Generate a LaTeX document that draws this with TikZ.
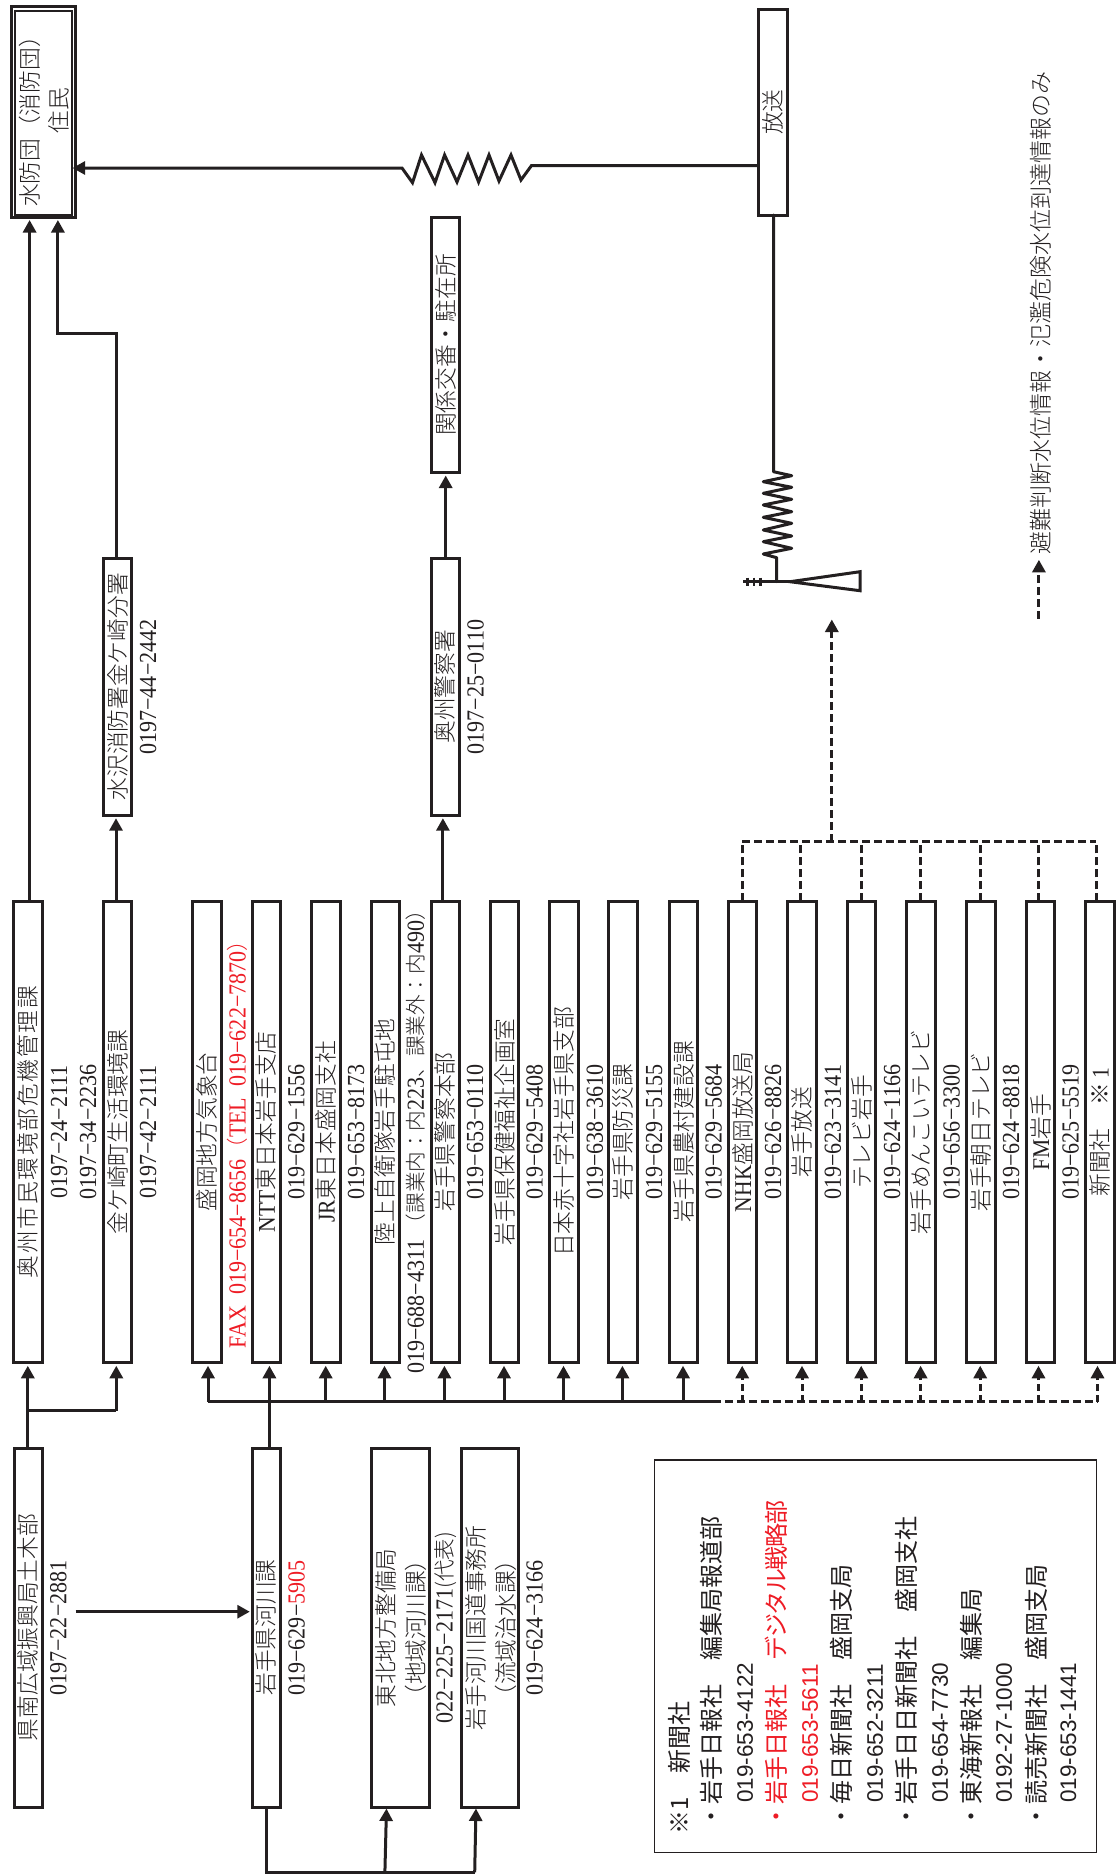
\documentclass[tikz,border=0pt]{standalone}
\usepackage{fontspec}
\usepackage{graphicx}
\usetikzlibrary{arrows.meta}
\setmainfont{Liberation Serif}[FakeStretch=0.9]
\newfontfamily\jpl{Noto Sans CJK JP Light}
\newfontfamily\gth{Noto Sans CJK JP}
\newfontfamily\gnum{Liberation Sans}
\definecolor{ink}{HTML}{231F20}
\definecolor{hred}{HTML}{EE1C25}
\newcommand{\jf}{\jpl\fontsize{22.7}{27}\selectfont}
\newcommand{\pf}{\normalfont\fontsize{24.5}{28}\selectfont}
\newcommand{\lat}[1]{{\normalfont\fontsize{24}{28}\selectfont #1}}
\newcommand{\kan}[1]{{\jpl\fontsize{21.5}{27}\selectfont #1}}
\newcommand{\kans}[1]{{\jpl\fontsize{20.6}{27}\selectfont #1}}
\newcommand{\tl}[1]{\rotatebox{90}{#1}}
\tikzset{
  x=1pt,y=-1pt,
  linep/.style={draw=ink,line width=3pt,line join=miter},
  arr/.style={linep,-{Triangle[length=12.5pt,width=13pt]},shorten >=3pt},
  dsh/.style={draw=ink,line width=3pt,dash pattern=on 8pt off 4pt},
  darr/.style={dsh,-{Triangle[length=12.5pt,width=13pt]},shorten >=3pt},
  busarr/.style={darr,dash pattern=on 6.8pt off 4pt},
  boxn/.style={draw=ink,line width=3pt,fill=white,outer sep=0pt,inner sep=0pt,font=\jf,text=ink},
  col/.style={boxn,minimum width=28.7pt,minimum height=461.5pt},
  mid/.style={boxn,minimum width=28.7pt,minimum height=257pt},
  low/.style={boxn,minimum height=359pt},
  lab/.style={rotate=90,inner sep=0pt,font=\jf,text=ink},
  ph/.style={rotate=90,inner sep=0pt,font=\pf,text=ink},
  gl/.style={rotate=90,anchor=west,inner sep=0pt,font=\gth\fontsize{24}{28}\selectfont,text=ink},
  gp/.style={rotate=90,anchor=west,inner sep=0pt,font=\gnum\fontsize{22.5}{28}\selectfont,text=ink},
}
\begin{document}
\begin{tikzpicture}
\useasboundingbox (0,0) rectangle (1117,1874);
% top boxes
\node[boxn,minimum width=64.2pt,minimum height=211.2pt,line width=2.8pt] (sui) at (43.5,112) {};
\node[draw=ink,line width=2pt,minimum width=56.9pt,minimum height=204.5pt,inner sep=0pt] (suiin) at (43.05,112.75) {};
\node[lab] (suia) at (30,116) {水防団（消防団）};
\node[lab] (suib) at (59,110.5) {住民};
\node[boxn,minimum width=29pt,minimum height=206pt] (hoso) at (772.5,112) {\tl{放送}};
\node[boxn,minimum width=28.7pt,minimum height=255pt] (kankei) at (445.5,345) {\tl{関係交番・駐在所}};
% middle boxes
\node[mid] (suisawa) at (117.5,686.7) {\tl{水沢消防署金ケ崎分署}};
\node[ph] (suisawap) at (148,687) {0197−44−2442};
\node[mid] (oshupol) at (445.35,686.7) {\tl{奥州警察署}};
\node[ph] (oshupolp) at (475.7,687) {0197−25−0110};
% main column
\node[col] (c1) at (28.25,1132) {\tl{\addfontfeature{LetterSpace=8}奥州市民環境部危機管理課}};
\node[ph] (p1a) at (59,1132) {0197−24−2111};
\node[ph] (p1b) at (88.2,1132) {0197−34−2236};
\node[col] (c2) at (117.5,1132) {\tl{金ケ崎町生活環境課}};
\node[ph] (p2) at (148,1132) {0197−42−2111};
\node[col] (c3) at (207.3,1132) {\tl{盛岡地方気象台}};
\node[ph,text=hred] (p3) at (237.5,1139) {FAX\ \ 019−654−8656{\kan{（}}TEL\ \ 019−622−7870{\kan{）}}};
\node[col] (c4) at (266.35,1132) {\tl{\lat{NTT}東日本岩手支店}};
\node[ph] (p4) at (296.4,1132) {019−629−1556};
\node[col] (c5) at (326,1132) {\tl{\lat{JR}東日本盛岡支社}};
\node[ph] (p5) at (356,1132) {019−653−8173};
\node[col] (c6) at (385.35,1132) {\tl{陸上自衛隊岩手駐屯地}};
\node[ph] (p6) at (416,1137) {019−688−4311 {\kans{（課業内：内}}223{\kans{、課業外：内}}490{\kans{）}}};
\node[col] (c7) at (445.35,1132) {\tl{岩手県警察本部}};
\node[ph] (p7) at (475,1132) {019−653−0110};
\node[col] (c8) at (504.5,1132) {\tl{岩手県保健福祉企画室}};
\node[ph] (p8) at (534.6,1132) {019−629−5408};
\node[col] (c9) at (564.1,1132) {\tl{日本赤十字社岩手県支部}};
\node[ph] (p9) at (594.8,1132) {019−638−3610};
\node[col] (c10) at (623.25,1132) {\tl{岩手県防災課}};
\node[ph] (p10) at (654,1132) {019−629−5155};
\node[col] (c11) at (683.45,1132) {\tl{岩手県農村建設課}};
\node[ph] (p11) at (713.5,1132) {019−629−5684};
\node[col] (c12) at (742.6,1132) {\tl{\lat{NHK}盛岡放送局}};
\node[ph] (p12) at (773,1132) {019−626−8826};
\node[col] (c13) at (802.25,1132) {\tl{岩手放送}};
\node[ph] (p13) at (832.8,1132) {019−623−3141};
\node[col] (c14) at (861.6,1132) {\tl{テレビ岩手}};
\node[ph] (p14) at (892,1132) {019−624−1166};
\node[col] (c15) at (921.3,1132) {\tl{岩手めんこいテレビ}};
\node[ph] (p15) at (951.5,1132) {019−656−3300};
\node[col] (c16) at (981,1132) {\tl{岩手朝日テレビ}};
\node[ph] (p16) at (1011,1132) {019−624−8818};
\node[col] (c17) at (1040.45,1132) {\tl{\lat{FM}岩手}};
\node[ph] (p17) at (1070.5,1132) {019−625−5519};
\node[col] (c18) at (1100,1132) {\tl{新聞社　※ \lat{1}}};
% low boxes
\node[low,minimum width=28pt] (kennan) at (28.35,1627.5) {\tl{県南広域振興局土木部}};
\node[ph] (kennanp) at (58.4,1628) {0197−22−2881};
\node[low,minimum width=27.8pt] (kasen) at (266.3,1627.5) {\tl{岩手県河川課}};
\node[ph] (kasenp) at (296.7,1628) {019−629−\textcolor{hred}{5905}};
\node[low,minimum width=57.6pt] (tohoku) at (400.4,1627.5) {};
\node[lab] (tohokua) at (385.7,1628) {東北地方整備局};
\node[lab] (tohokub) at (416,1628) {（地域河川課）};
\node[ph] (tohokup) at (445.7,1628) {022−225−2171{\kan{(代表)}}};
\node[low,minimum width=57pt] (iwate) at (489.8,1627.5) {};
\node[lab] (iwatea) at (475.5,1628) {岩手河川国道事務所};
\node[lab] (iwateb) at (506,1628) {（流域治水課）};
\node[ph] (iwatep) at (534.7,1628) {019−624−3166};
% legend
\node[draw=ink,line width=1.5pt,minimum width=442.4pt,minimum height=392.7pt,inner sep=0pt] (legend) at (875.5,1656.35) {};
\node[gl] (l0) at (679.3,1835) {※1　新聞社};
\node[gl] (l1) at (711.7,1829) {・岩手日報社　編集局報道部};
\node[gp] (l1p) at (745,1803) {019-653-4122};
\node[gl,text=hred] (l2) at (776.7,1829) {・岩手日報社　{\addfontfeature{LetterSpace=-5}デジタル戦略部}};
\node[gp,text=hred] (l2p) at (810,1803) {019-653-5611};
\node[gl] (l3) at (841.7,1829) {・毎日新聞社　盛岡支局};
\node[gp] (l3p) at (875,1803) {019-652-3211};
\node[gl] (l4) at (906.7,1829) {・岩手日日新聞社　盛岡支社};
\node[gp] (l4p) at (940,1803) {019-654-7730};
\node[gl] (l5) at (971.7,1829) {・東海新報社　編集局};
\node[gp] (l5p) at (1004,1803) {0192-27-1000};
\node[gl] (l6) at (1036.7,1829) {・読売新聞社　盛岡支局};
\node[gp] (l6p) at (1068.3,1803) {019-653-1441};
% note
\node[lab,font=\jpl\fontsize{23}{27}\selectfont] (note) at (1041.3,312.5) {避難判断水位情報・氾濫危険水位到達情報のみ};
\coordinate (notea) at (1038.9,618.7);
\coordinate (noteb) at (1038.9,559.8);
\draw[darr,shorten >=0pt] (notea) -- (noteb);
% broadcast to residents
\draw[arr,shorten >=-3pt] (hoso.west |- 0,165.7) -- (531.4,165.7) -- (521,180) -- (511,155) -- (499,181) -- (489,155) -- (478.6,182) -- (468,155) -- (457,182) -- (444.6,155) -- (435,182.7) -- (421.5,155) -- (412.5,182.7) -- (402,168) -- (sui.east |- 0,168);
% antenna
\coordinate (ant) at (776.7,581.7);
\draw[draw=ink,line width=3pt,line join=round,line cap=round] (773.5,0 |- hoso.south) -- (773.5,471.7) -- (791.7,475.7) -- (763.3,481.7) -- (791.7,487.3) -- (763.3,493.3) -- (791.7,499.3) -- (763.3,505) -- (791.7,511.7) -- (763.3,517.3) -- (791.7,523.3) -- (763.3,530) -- (791.7,536) -- (763.3,541.7) -- (791.7,548.3) -- (763.3,554) -- (776.7,557.7) -- (ant);
\draw[draw=ink,line width=3pt] (743.3,581.7) -- (ant) -- (790,581.7);
\draw[draw=ink,line width=3pt,line join=miter] (790,581.7) -- (860,571.7) -- (860,590.7) -- cycle;
\foreach \tx in {747.3,754,760.7} \draw[draw=ink,line width=2.6pt] (\tx,577.7) -- (\tx,585.7);
% left column
\coordinate (kjoin) at (27.8,1410.7);
\draw[arr] (kennan.north -| 27.8,0) -- (27.8,0 |- c1.south);
\draw[linep] (kjoin) -- (116.3,1410.7);
\draw[arr] (116.3,1410.7) -- (116.3,0 |- c2.south);
\draw[arr,shorten >=2.4pt] (c1.north -| 29.6,0) -- (29.6,0 |- sui.south);
\draw[arr] (c2.north -| 116,0) -- (116,0 |- suisawa.south);
\draw[arr,shorten >=2.4pt] (suisawa.north -| 116,0) -- (116,333.3) -- (57.9,333.3) -- (57.9,0 |- sui.south);
\draw[arr] (c7.north -| 442.9,0) -- (442.9,0 |- oshupol.south);
\draw[arr] (oshupol.north -| 445.7,0) -- (445.7,0 |- kankei.south);
% bus
\coordinate (busl) at (208,1401.6);
\coordinate (busm) at (712.8,1401.6);
\coordinate (busr) at (1097.5,1401.6);
\draw[linep] (busl) -- (busm);
\draw[dsh] (busm) -- (busr);
\draw[arr] (kasen.north -| 269.4,0) -- (269.4,0 |- c4.south);
\foreach \xx/\bb in {208/c3,325.7/c5,384.5/c6,444.4/c7,504/c8,563.5/c9,622.4/c10,683/c11}
  \draw[arr] (\xx,1401.6) -- (\xx,0 |- \bb.south);
\foreach \xx/\bb in {742.2/c12,802/c13,861.2/c14,920.6/c15,980.2/c16,1038.5/c17,1097.5/c18}
  \draw[busarr] (\xx,1401.6) -- (\xx,0 |- \bb.south);
% top dashed tree
\coordinate (treel) at (742.2,841.5);
\coordinate (treer) at (1096.4,841.5);
\coordinate (treem) at (831.8,841.5);
\coordinate (anttip) at (831.8,619.5);
\draw[dsh] (treel) -- (treer);
\draw[darr,shorten >=0pt] (treem) -- (anttip);
\foreach \xx/\bb in {742.2/c12,800.9/c13,861.2/c14,920.6/c15,980.2/c16,1038.5/c17,1096.4/c18}
  \draw[dsh] (\xx,0 |- \bb.north) -- (\xx,841.5);
% kennan to river division
\coordinate (kaarrow) at (75.5,1611.7);
\draw[arr,shorten >=0pt] (kaarrow) -- (249.8,1611.7);
% river division to offices
\coordinate (botl) at (266,1872.3);
\coordinate (botr) at (474.7,1872.3);
\coordinate (botm) at (384.9,1872.3);
\draw[linep] (266,0 |- kasen.south) -- (botl) -- (botr);
\draw[arr,shorten >=1.5pt] (botm) -- (386.5,0 |- tohoku.south);
\draw[arr,shorten >=1.5pt] (botr) -- (476,0 |- iwate.south);
\end{tikzpicture}
\end{document}
